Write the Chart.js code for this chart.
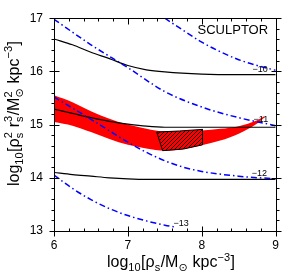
<!DOCTYPE html>
<html><head><meta charset="utf-8">
<script src="https://cdn.jsdelivr.net/npm/chart.js@4/dist/chart.umd.min.js"></script>
<style>html,body{margin:0;padding:0;background:#fff;}canvas{display:block;}</style>
</head><body>
<canvas id="c" width="286" height="273" style="width:286px;height:273px"></canvas>
<script>
// ---- data ----
const xTicks = [6, 7, 8, 9];
const yTicks = [13, 14, 15, 16, 17];

// black solid curves
const blackX   = [6, 6.25, 6.5, 6.75, 7, 7.25, 7.5, 8, 8.5, 9];
const black10  = [16.61, 16.50, 16.36, 16.24, 16.11, 16.03, 15.99, 15.95, 15.94, 15.94];
const black11  = [15.29, 15.21, 15.13, 15.06, 15.01, 14.97, 14.95, 14.95, 14.95, 14.95];
const black12  = [14.10, 14.06, 14.03, 14.00, 13.98, 13.97, 13.97, 13.97, 13.97, 13.97];

// blue dash-dot curves
const blueAX = [7.5, 7.75, 8, 8.25, 8.5, 8.75, 9];
const blueAY = [17.0, 16.77, 16.55, 16.37, 16.22, 16.11, 16.02];
const blueBX = [6, 6.5, 7, 7.5, 8, 8.5, 9];
const blueBY = [16.98, 16.50, 16.07, 15.62, 15.33, 15.13, 14.98];
const blueCX = [6, 6.5, 7, 7.25, 7.5, 7.75, 8, 8.5, 9];
const blueCY = [15.52, 15.10, 14.67, 14.48, 14.32, 14.20, 14.12, 14.03, 13.98];
const blueDX = [6, 6.25, 6.5, 6.75, 7, 7.25, 7.5, 7.65];
const blueDY = [14.05, 13.80, 13.59, 13.42, 13.29, 13.19, 13.11, 13.07];

// red band edges
const bandX     = [6, 6.25, 6.5, 6.75, 7, 7.25, 7.5, 7.75, 8, 8.25, 8.5, 8.75, 8.85];
const bandLower = [15.05, 14.98, 14.86, 14.73, 14.62, 14.55, 14.51, 14.54, 14.61, 14.70, 14.83, 15.02, 15.14];
const bandUpper = [15.55, 15.42, 15.25, 15.11, 15.00, 14.92, 14.87, 14.87, 14.89, 14.92, 14.97, 15.08, 15.16];

// hatched box outline
const boxX = [7.39, 7.70, 8.01, 8.01, 7.75, 7.47, 7.39];
const boxY = [14.86, 14.88, 14.91, 14.62, 14.54, 14.51, 14.86];

// curve labels
const curveLabels = ['\u221210', '\u221211', '\u221212', '\u221213'];
const labelX = [8.79, 8.80, 8.78, 7.72];
const labelY = [16.03, 15.09, 14.08, 13.15];
const galaxyName = 'SCULPTOR';
const galaxyX = 8.42, galaxyY = 16.77;

// ---- helpers ----
const pts = (xs, ys) => xs.map((x, i) => ({x: x, y: ys[i]}));
const FAM = '"Liberation Sans", Arial, "DejaVu Sans", sans-serif';

const canvas = document.getElementById('c');
const ctx0 = canvas.getContext('2d');
function hatch() {
  const c = document.createElement('canvas');
  c.width = 4; c.height = 4;
  const g = c.getContext('2d');
  g.fillStyle = '#ff0000'; g.fillRect(0, 0, 4, 4);
  g.strokeStyle = '#000'; g.lineWidth = 0.9;
  g.beginPath();
  g.moveTo(-1, 5); g.lineTo(5, -1);
  g.moveTo(-1, 1); g.lineTo(1, -1);
  g.moveTo(3, 5); g.lineTo(5, 3);
  g.stroke();
  return ctx0.createPattern(c, 'repeat');
}

function richWidth(ctx, segs, fs, ss) {
  let w = 0;
  for (const s of segs) {
    if (s.t !== undefined) { ctx.font = fs; w += ctx.measureText(s.t).width; }
    else {
      ctx.font = ss;
      w += Math.max(s.sub ? ctx.measureText(s.sub).width : 0, s.sup ? ctx.measureText(s.sup).width : 0) + 0.5;
    }
  }
  return w;
}
function drawRich(ctx, segs, cx, cy, size) {
  const fs = size + 'px ' + FAM;
  const ssz = Math.round(size * 0.7);
  const ss = ssz + 'px ' + FAM;
  const w = richWidth(ctx, segs, fs, ss);
  let x = cx - w / 2;
  ctx.textAlign = 'left'; ctx.textBaseline = 'alphabetic'; ctx.fillStyle = '#000';
  for (const s of segs) {
    if (s.t !== undefined) { ctx.font = fs; ctx.fillText(s.t, x, cy); x += ctx.measureText(s.t).width; }
    else {
      ctx.font = ss;
      let ww = 0;
      if (s.sub) { ctx.fillText(s.sub, x, cy + size * 0.28); ww = Math.max(ww, ctx.measureText(s.sub).width); }
      if (s.sup) { ctx.fillText(s.sup, x, cy - size * 0.40); ww = Math.max(ww, ctx.measureText(s.sup).width); }
      x += ww + 0.5;
    }
  }
}

const xTitle = [{t: 'log'}, {sub: '10'}, {t: '[\u03C1'}, {sub: 's'}, {t: '/M'}, {sub: '\u2299'}, {t: ' kpc'}, {sup: '\u22123'}, {t: ']'}];
const yTitle = [{t: 'log'}, {sub: '10'}, {t: '[\u03C1'}, {sub: 's', sup: '2'}, {t: ' r'}, {sub: 's', sup: '3'}, {t: '/M'}, {sub: '\u2299', sup: '2'}, {t: ' kpc'}, {sup: '\u22123'}, {t: ']'}];

const deco = {
  id: 'deco',
  afterDatasetsDraw(chart) {
    const {ctx, chartArea: a, scales: {x, y}} = chart;
    ctx.save();
    ctx.strokeStyle = '#000'; ctx.lineWidth = 1;
    const L = Math.round(a.left) + 0.5, R = Math.round(a.right) + 0.5;
    const T = Math.round(a.top) + 0.5, B = Math.round(a.bottom) + 0.5;
    ctx.strokeRect(L, T, R - L, B - T);
    ctx.beginPath();
    for (let i = 0; i <= 15; i++) {
      const v = 6 + i * 0.2;
      const p = Math.round(x.getPixelForValue(v)) + 0.5;
      const major = i % 5 === 0;
      if (major) {
        ctx.moveTo(p, B - 5); ctx.lineTo(p, B + 5);
        ctx.moveTo(p, T); ctx.lineTo(p, T + 6);
      } else {
        ctx.moveTo(p, B - 3); ctx.lineTo(p, B);
        ctx.moveTo(p, T); ctx.lineTo(p, T + 3);
      }
    }
    for (let i = 0; i <= 20; i++) {
      const v = 13 + i * 0.2;
      const p = Math.round(y.getPixelForValue(v)) + 0.5;
      const major = i % 5 === 0;
      if (major) {
        ctx.moveTo(L - 5, p); ctx.lineTo(L + 5, p);
        ctx.moveTo(R - 5, p); ctx.lineTo(R + 5, p);
      } else {
        ctx.moveTo(L - 3, p); ctx.lineTo(L, p);
        ctx.moveTo(R, p); ctx.lineTo(R + 3, p);
      }
    }
    ctx.stroke();

    // curve labels
    ctx.fillStyle = '#000';
    ctx.textAlign = 'center'; ctx.textBaseline = 'middle';
    ctx.font = '9px ' + FAM;
    curveLabels.forEach((s, i) => ctx.fillText(s, x.getPixelForValue(labelX[i]), y.getPixelForValue(labelY[i])));
    ctx.font = '13px ' + FAM;
    ctx.fillText(galaxyName, x.getPixelForValue(galaxyX), y.getPixelForValue(galaxyY));

    // axis titles
    drawRich(ctx, xTitle, 171, 267, 16);
    ctx.save();
    ctx.translate(18.5, 113.5);
    ctx.rotate(-Math.PI / 2);
    drawRich(ctx, yTitle, 0, 0, 16);
    ctx.restore();
    ctx.restore();
  }
};

const blackStyle = {showLine: true, borderColor: '#000', borderWidth: 1.2, pointRadius: 0, cubicInterpolationMode: 'monotone', fill: false, order: 2};
const blueStyle = {showLine: true, borderColor: '#0000ff', borderWidth: 1.5, borderDash: [6, 3, 1.5, 3], pointRadius: 0, cubicInterpolationMode: 'monotone', fill: false, order: 1};

new Chart(canvas, {
  type: 'scatter',
  data: {
    datasets: [
      Object.assign({data: pts(blackX, black10)}, blackStyle),
      Object.assign({data: pts(blackX, black11)}, blackStyle),
      Object.assign({data: pts(blackX, black12)}, blackStyle),
      Object.assign({data: pts(blueAX, blueAY)}, blueStyle),
      Object.assign({data: pts(blueBX, blueBY)}, blueStyle),
      Object.assign({data: pts(blueCX, blueCY)}, blueStyle),
      Object.assign({data: pts(blueDX, blueDY)}, blueStyle),
      {data: pts(boxX, boxY), showLine: true, borderColor: '#000', borderWidth: 1, backgroundColor: hatch(), fill: 'shape', pointRadius: 0, tension: 0, order: 9},
      {data: pts(bandX, bandLower), showLine: true, borderWidth: 0, borderColor: 'rgba(0,0,0,0)', pointRadius: 0, cubicInterpolationMode: 'monotone', fill: false, order: 11},
      {data: pts(bandX, bandUpper), showLine: true, borderWidth: 0, borderColor: 'rgba(0,0,0,0)', backgroundColor: '#ff0000', pointRadius: 0, cubicInterpolationMode: 'monotone', fill: '-1', order: 10}
    ]
  },
  options: {
    responsive: false, animation: false, devicePixelRatio: 1,
    layout: {padding: {top: 7, right: 7, left: 0, bottom: 0}},
    plugins: {legend: {display: false}, tooltip: {enabled: false}},
    events: [],
    scales: {
      x: {
        type: 'linear', min: 6, max: 9,
        afterFit(s) { s.height = 42; },
        afterBuildTicks(s) { s.ticks = xTicks.map(v => ({value: v})); },
        grid: {display: false, drawTicks: false}, border: {display: false},
        ticks: {padding: 7, color: '#000', font: {family: FAM, size: 12}, maxRotation: 0, callback: v => String(v)}
      },
      y: {
        type: 'linear', min: 13, max: 17,
        afterFit(s) { s.width = 54; },
        afterBuildTicks(s) { s.ticks = yTicks.map(v => ({value: v})); },
        grid: {display: false, drawTicks: false}, border: {display: false},
        ticks: {padding: 11, color: '#000', font: {family: FAM, size: 12}, callback: v => String(v)}
      }
    }
  },
  plugins: [deco]
});
</script>
</body></html>
